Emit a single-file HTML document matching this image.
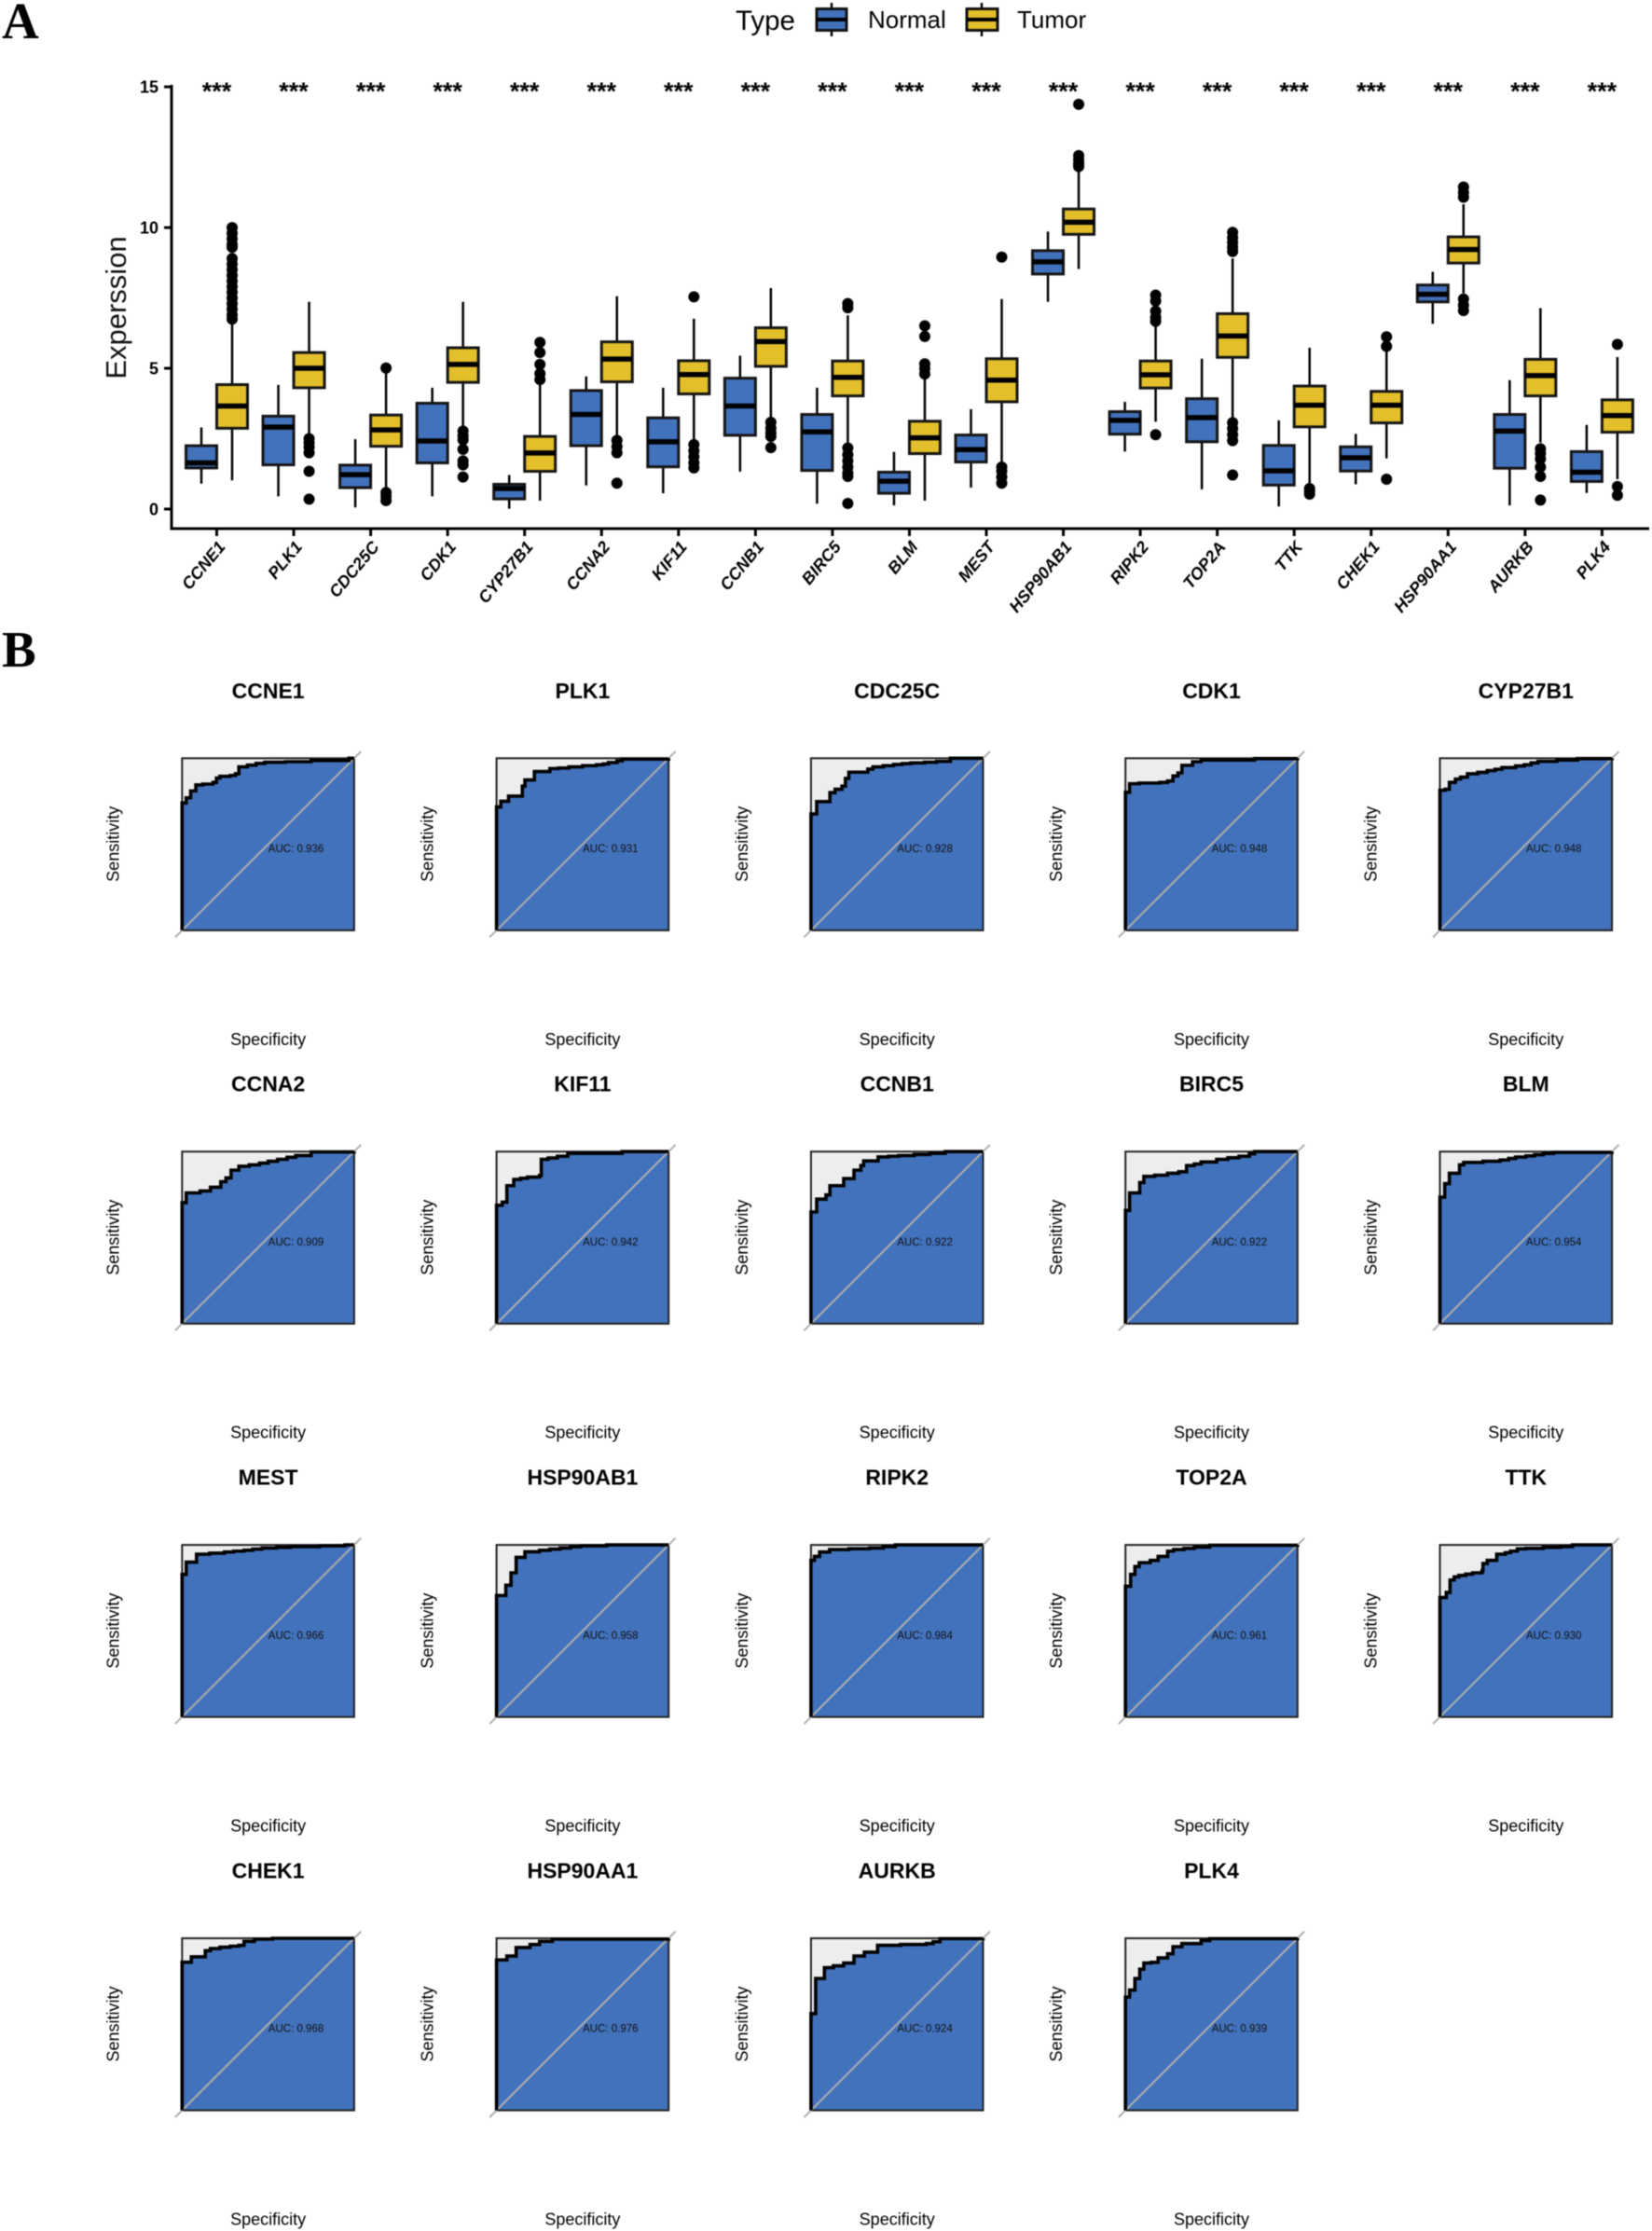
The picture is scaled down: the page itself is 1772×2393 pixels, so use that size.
<!DOCTYPE html>
<html>
<head>
<meta charset="utf-8">
<title>Expression boxplots and ROC curves</title>
<style>
html,body{margin:0;padding:0;background:#fff;width:1772px;height:2393px;overflow:hidden}
svg{display:block;filter:blur(0.45px)}
text{font-family:"Liberation Sans",sans-serif}
</style>
</head>
<body>
<svg id="figure" xmlns="http://www.w3.org/2000/svg" width="1772" height="2393" viewBox="0 0 1772 2393">
  <rect x="0" y="0" width="1772" height="2393" fill="#fff"/>
  <text x="2" y="41" style="font-family:'Liberation Serif',serif;font-weight:bold;font-size:55px">A</text>
  <text x="2" y="715" style="font-family:'Liberation Serif',serif;font-weight:bold;font-size:55px">B</text>

  <g>
    <text x="789" y="32" font-size="29.5">Type</text>
    <g>
      <line x1="892" x2="892" y1="3" y2="39" stroke="#000" stroke-width="2.5"/>
      <rect x="876" y="9.5" width="32" height="23" fill="#4272BC" stroke="#111" stroke-width="3"/>
      <line x1="876" x2="908" y1="21" y2="21" stroke="#000" stroke-width="4"/>
      <text x="931" y="30" font-size="26">Normal</text>
    </g>
    <g>
      <line x1="1053" x2="1053" y1="3" y2="39" stroke="#000" stroke-width="2.5"/>
      <rect x="1037" y="9.5" width="33" height="23" fill="#E2BF2B" stroke="#111" stroke-width="3"/>
      <line x1="1037" x2="1070" y1="21" y2="21" stroke="#000" stroke-width="4"/>
      <text x="1091" y="30" font-size="26">Tumor</text>
    </g>
  </g>
  <g id="boxplot"></g>
  <g id="rocs"></g>
</svg>

<script>
// ---------- Panel A data ----------
const genes = ["CCNE1","PLK1","CDC25C","CDK1","CYP27B1","CCNA2","KIF11","CCNB1","BIRC5","BLM","MEST","HSP90AB1","RIPK2","TOP2A","TTK","CHEK1","HSP90AA1","AURKB","PLK4"];
const yTicks = [0,5,10,15];
// [lower whisker, q1, median, q3, upper whisker]
const normalStats = [
 [0.9,1.46,1.64,2.25,2.9],[0.45,1.57,2.91,3.3,4.41],[0.06,0.76,1.22,1.56,2.48],[0.45,1.64,2.42,3.76,4.31],
 [0.01,0.36,0.73,0.88,1.21],[0.84,2.25,3.36,4.21,4.71],[0.56,1.5,2.39,3.24,4.31],[1.33,2.62,3.66,4.65,5.45],
 [0.19,1.37,2.74,3.36,4.31],[0.13,0.56,0.99,1.31,2.03],[0.76,1.67,2.11,2.63,3.55],[7.36,8.35,8.78,9.18,9.86],
 [2.04,2.66,3.15,3.46,3.81],[0.7,2.39,3.25,3.92,5.34],[0.09,0.85,1.36,2.26,3.15],[0.88,1.35,1.82,2.21,2.67],
 [6.58,7.36,7.63,7.96,8.43],[0.13,1.45,2.77,3.36,4.58],[0.57,0.98,1.31,2.04,2.99]];
const tumorStats = [
 [1.02,2.87,3.66,4.42,6.7],[2.55,4.31,5.0,5.56,7.36],[0.7,2.23,2.81,3.34,4.9],[2.85,4.5,5.14,5.73,7.36],
 [0.3,1.34,1.99,2.58,4.5],[2.6,4.52,5.33,5.94,7.56],[2.4,4.09,4.78,5.27,6.76],[3.2,5.07,5.95,6.44,7.85],
 [2.36,4.02,4.68,5.26,6.88],[0.3,1.97,2.53,3.12,4.65],[1.64,3.81,4.58,5.34,7.46],[8.53,9.76,10.19,10.66,11.98],
 [3.1,4.3,4.77,5.26,6.5],[3.22,5.39,6.15,6.94,8.9],[0.85,2.92,3.69,4.37,5.73],[1.8,3.06,3.69,4.18,5.6],
 [7.67,8.74,9.22,9.67,10.83],[2.36,4.02,4.74,5.32,7.14],[1.06,2.73,3.32,3.88,5.4]];
const tumorOutliers = [
 [10,9.8,9.6,9.4,9.3,8.9,8.7,8.5,8.3,8.1,7.9,7.7,7.5,7.3,7.1,6.9,6.75],
 [2.5,2.35,2.2,2.0,1.34,0.35],
 [5.01,0.59,0.45,0.3],
 [2.77,2.6,2.46,2.12,1.71,1.57,1.14],
 [5.92,5.56,5.14,4.81,4.6],
 [2.44,2.22,2.0,0.92],
 [7.54,2.29,2.07,1.86,1.64,1.46],
 [3.08,2.87,2.7,2.58,2.18],
 [7.3,7.15,2.17,1.93,1.71,1.49,1.28,1.16,0.2],
 [6.51,6.13,5.16,4.99,4.8],
 [8.95,1.49,1.35,1.14,0.92],
 [14.38,12.56,12.41,12.27,12.17],
 [7.6,7.39,7.03,6.81,6.67,2.64],
 [9.83,9.64,9.47,9.3,9.15,3.07,2.86,2.64,2.43,1.21],
 [0.73,0.63,0.53],
 [6.12,5.78,1.06],
 [11.44,11.25,11.08,7.46,7.24,7.05],
 [2.14,1.97,1.78,1.49,1.16,0.32],
 [5.85,0.8,0.49]];

// ---------- Panel B data: [1 - specificity %, sensitivity %] ----------
const aucValues = ["0.936","0.931","0.928","0.948","0.948","0.909","0.942","0.922","0.922","0.954","0.966","0.958","0.984","0.961","0.930","0.968","0.976","0.924","0.939"];
const rocCCNE1 = [[0,74],[2.4,77],[5,81],[8,84.5],[12,85],[18,86],[20,88.5],[22,89.5],[28,90],[31,91],[33,95],[38,96],[43,97],[48,97.7],[60,98],[75,98.7],[97,100],[100,100]];
const rocPLK1 = [[0,71.7],[2.5,75],[7,78],[15,83.8],[16.5,87.4],[22,92.3],[31,94],[36,94.3],[42,95],[50,95.7],[58,96.2],[62,96.7],[65,97.5],[70,98.5],[73,99.5],[100,100]];
const rocCDC25C = [[0,67.6],[3.3,74.8],[11,80],[14,82],[18,83.8],[20,88.3],[22,91.9],[33,93.7],[36,95],[42,95.7],[48,96.4],[53,96.9],[58,97.3],[66,97.7],[73,98.2],[81,100],[100,100]];
const rocCDK1 = [[0,80.2],[2.4,85.2],[8,85.6],[20,86],[24.5,86.8],[27.6,89.7],[30.5,91.5],[32.8,95.9],[39,98],[44,99],[75,99.8],[100,100]];
const rocCYP27B1 = [[0,81.4],[3,82],[5.5,86],[9,87.9],[12,89],[16,91],[22,91.8],[27.5,92.8],[32,93.6],[36,94.6],[44,95.5],[49,96.2],[53,97.3],[57,98.2],[68,99],[80,99.8],[100,100]];
const rocCCNA2 = [[0,70.3],[2.4,76],[10.5,77.1],[16.5,79.3],[22.5,82.5],[25.5,84.7],[28.5,89.2],[33,91.5],[39,92.3],[45,93.3],[50,94.4],[55.5,95.5],[61,96.7],[66,97.7],[75,99.8],[100,100]];
const rocKIF11 = [[0,68.8],[3.3,70.6],[6,80.2],[10,83.8],[14,84.5],[18,85.2],[25,86.1],[26,95.5],[30,96.3],[35.4,97.3],[41.4,99],[73,100],[100,100]];
const rocCCNB1 = [[0,64.9],[3.3,72.4],[8.7,74.8],[11,80.2],[19,84.3],[25,89.2],[29,91.9],[30.6,94.6],[39,96.9],[45,97.3],[51,97.7],[60,98.3],[69,99],[78,100],[100,100]];
const rocBIRC5 = [[0,65.8],[2.4,76],[8.3,82],[10.7,85.6],[17,86.3],[24.5,87.4],[31,88.3],[35.5,91.9],[40,92.8],[44,94],[53,95.5],[59.5,96.4],[66,97.3],[72,98.7],[75,100],[100,100]];
const rocBLM = [[0,73.5],[2.8,81.4],[5.5,87.4],[11.4,92.3],[13.8,93.7],[25,94.4],[35,95.1],[40,96],[44,96.8],[50,97.5],[55,98.2],[60,98.9],[66,99.5],[100,100]];
const rocMEST = [[0,82.9],[2.4,90],[8.4,94.6],[16,95.2],[24.6,95.9],[30,96.4],[36,96.9],[41,97.6],[46.5,98.2],[55,98.6],[63,99],[80,99.5],[94.6,100],[100,100]];
const rocHSP90AB1 = [[0,70.6],[5.4,76.6],[8.4,83.8],[11.4,92.8],[16.5,96],[25,96.9],[31,97.6],[37,98.2],[43,98.9],[49,99.5],[64,100],[100,100]];
const rocRIPK2 = [[0,91],[2,93.3],[5,95.9],[10.8,97.3],[22,97.8],[34,98.2],[42,99],[49,100],[100,100]];
const rocTOP2A = [[0,76],[3,82.9],[5.5,87.4],[8,89.7],[14.4,91],[19,93.3],[24.5,96.4],[28,97.3],[34,98],[40,98.7],[49,99.8],[100,100]];
const rocTTK = [[0,69.4],[3.7,72.4],[5.9,79.6],[8.3,81.4],[11,82.3],[15,83],[19,83.8],[24.5,85],[25,89.2],[27.5,91],[33,94.6],[38,95.5],[41,96.4],[45,97.7],[50,98],[60,98.6],[70,99],[77,100],[100,100]];
const rocCHEK1 = [[0,86.1],[5.4,89.2],[13.5,92.8],[16.5,94],[22,94.8],[28,95.4],[33,95.9],[36,98.2],[42,99.5],[52.5,100],[100,100]];
const rocHSP90AA1 = [[0,87.4],[6,89.7],[11.4,94.6],[19.5,96.4],[25,98.2],[32.4,99.5],[100,100]];
const rocAURKB = [[0,56.2],[2.7,76.6],[7.8,82.9],[13,84],[19,85.6],[25,89.7],[31,91.9],[38.7,95.9],[52,96.4],[67,96.9],[71,98],[75,99.8],[100,100]];
const rocPLK4 = [[0,65.8],[2.4,69.9],[5.5,76.6],[8.3,82],[10.7,85.6],[15,86],[19,88.6],[24.5,91],[27.6,95.1],[32.8,96.9],[44,98.7],[49,99.8],[100,100]];
const rocSeries = [rocCCNE1,rocPLK1,rocCDC25C,rocCDK1,rocCYP27B1,rocCCNA2,rocKIF11,rocCCNB1,rocBIRC5,rocBLM,rocMEST,rocHSP90AB1,rocRIPK2,rocTOP2A,rocTTK,rocCHEK1,rocHSP90AA1,rocAURKB,rocPLK4];

// ---------- Axis functions ----------
const NS = "http://www.w3.org/2000/svg";
const BLUE = "#4272BC", YELLOW = "#E2BF2B", GREY = "#EDEDED";
const yScale = v => 546 - v * 30.19;
const xBand = i => 232.5 + 82.55 * i;
const rocLeft = i => 195.3 + 337.3 * (i % 5);
const rocTop = i => 813.3 + 421.9 * Math.floor(i / 5);
const ROC_SIZE = 184.6;
const rocX = (i, fpr) => rocLeft(i) + fpr / 100 * ROC_SIZE;
const rocY = (i, sens) => rocTop(i) + (100 - sens) / 100 * ROC_SIZE;

function mk(tag, parent, attrs, txt) {
  const e = document.createElementNS(NS, tag);
  for (const k in attrs) e.setAttribute(k, attrs[k]);
  if (txt !== undefined) e.textContent = txt;
  parent.appendChild(e);
  return e;
}

// ---------- Panel A drawing ----------
const bp = document.getElementById("boxplot");
let el;
el = mk("line", bp, {x1:184, x2:184, y1:91, y2:568, stroke:"#000", "stroke-width":3});


el = mk("line", bp, {x1:182.5, x2:1769, y1:567, y2:567, stroke:"#000", "stroke-width":3});


el = mk("text", bp, {transform:"translate(135,330) rotate(-90)", "text-anchor":"middle", "font-size":31, fill:"#111"}, "Experssion");



yTicks.forEach(t => {
  const y = yScale(t);
  let e = mk("line", bp, {x1:176, x2:184, y1:y, y2:y, stroke:"#000", "stroke-width":3});
  
  
  e = mk("text", bp, {x:170, y:y + 6.5, "text-anchor":"end", "font-size":18, "font-weight":"bold"}, String(t));
  
  
});

function drawBox(parent, cx, s, fill, group) {
  let e = mk("line", parent, {x1:cx, x2:cx, y1:yScale(s[0]), y2:yScale(s[4]), stroke:"#000", "stroke-width":2.5});
  
  
  e = mk("rect", parent, {x:cx - 16.5, y:yScale(s[3]), width:33, height:yScale(s[1]) - yScale(s[3]), fill:fill, stroke:"#151515", "stroke-width":3});
  
  
  e = mk("line", parent, {x1:cx - 16.5, x2:cx + 16.5, y1:yScale(s[2]), y2:yScale(s[2]), stroke:"#000", "stroke-width":5.5});
  
  
}

genes.forEach((g, i) => {
  const c = xBand(i);
  const grp = mk("g", bp, {});
  
  

  drawBox(grp, c - 16.5, normalStats[i], BLUE, "normal");
  tumorOutliers[i].forEach(v => {
    const o = mk("circle", grp, {cx:c + 16.5, cy:yScale(v), r:6, fill:"#000"});
    
    
  });
  drawBox(grp, c + 16.5, tumorStats[i], YELLOW, "tumor");

  let e = mk("text", grp, {x:c, y:107, "text-anchor":"middle", "font-size":27, "font-weight":"bold"}, "***");
  
  
  e = mk("line", grp, {x1:c, x2:c, y1:567, y2:575, stroke:"#000", "stroke-width":3});
  
  
  const lx = c + 10, ly = 587;
  e = mk("text", grp, {x:lx, y:ly, transform:"rotate(-50 " + lx + " " + ly + ")", "text-anchor":"end", "font-size":18, "font-weight":"bold", "font-style":"italic"}, g);
  
  
});

// ---------- Panel B drawing ----------
const rocs = document.getElementById("rocs");
function stepPath(i, pts) {
  let d = "M" + rocX(i, 0) + " " + rocY(i, 0);
  let cx = 0;
  pts.forEach(p => {
    if (p[0] !== cx) { d += "H" + rocX(i, p[0]); cx = p[0]; }
    d += "V" + rocY(i, p[1]);
  });
  return d;
}
genes.forEach((g, i) => {
  const L = rocLeft(i), T = rocTop(i), midX = L + ROC_SIZE / 2;
  const grp = mk("g", rocs, {});
  
  

  let e = mk("text", grp, {x:midX, y:T - 64.5, "text-anchor":"middle", "font-size":23, "font-weight":"bold"}, g);
  
  

  e = mk("rect", grp, {x:L, y:T, width:ROC_SIZE, height:ROC_SIZE, fill:GREY});
  
  

  const path = stepPath(i, rocSeries[i]);
  e = mk("path", grp, {d:path + "V" + rocY(i, 0) + "Z", fill:BLUE});
  
  

  e = mk("rect", grp, {x:L, y:T, width:ROC_SIZE, height:ROC_SIZE, fill:"none", stroke:"#222", "stroke-width":2});
  
  

  e = mk("line", grp, {x1:rocX(i, -4), y1:rocY(i, -4), x2:rocX(i, 104), y2:rocY(i, 104), stroke:"#AFAFAF", "stroke-width":2});
  
  

  e = mk("path", grp, {d:path, fill:"none", stroke:"#000", "stroke-width":3.6, "stroke-linejoin":"miter"});
  
  

  e = mk("text", grp, {x:L + 92.5, y:T + 100.7, "font-size":11.5, fill:"#111"}, "AUC: " + aucValues[i]);
  
  

  e = mk("text", grp, {x:midX, y:T + 307.5, "text-anchor":"middle", "font-size":18}, "Specificity");
  
  

  const sx = L - 68, sy = T + 92;
  e = mk("text", grp, {x:sx, y:sy, transform:"rotate(-90 " + sx + " " + sy + ")", "text-anchor":"middle", "font-size":18}, "Sensitivity");
  
  
});
</script>
</body>
</html>
